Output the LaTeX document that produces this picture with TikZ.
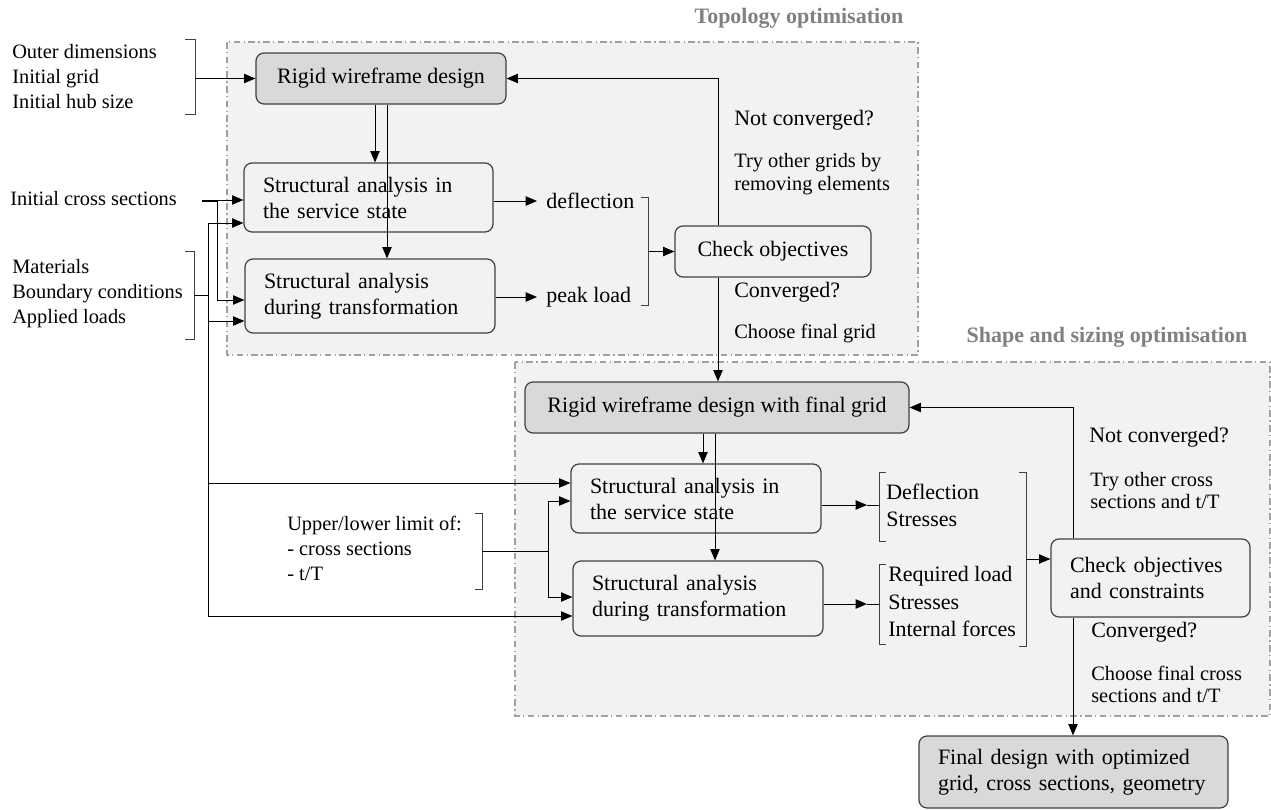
\documentclass[tikz,border=0pt]{standalone}
\usepackage{fontspec}
\setmainfont{Liberation Serif}
\usetikzlibrary{arrows.meta}
\definecolor{grpfill}{HTML}{F2F2F2}
\definecolor{grpline}{HTML}{A0A0A0}
\definecolor{boxfill}{HTML}{D9D9D9}
\definecolor{boxline}{HTML}{404040}
\definecolor{titlegray}{HTML}{808080}
\begin{document}
\begin{tikzpicture}[x=0.75pt,y=-0.75pt,
 font=\fontsize{16.5}{19}\selectfont,
 grp/.style={fill=grpfill,draw=grpline,line width=1pt,dash pattern=on 5pt off 2.5pt on 1pt off 2.5pt},
 box/.style={draw=boxline,line width=0.9pt,rounded corners=6pt,inner sep=0pt},
 gbox/.style={box,fill=boxfill},
 lbox/.style={box,align=left,inner xsep=14.25pt,font=\fontsize{16.5}{19.5}\selectfont},
 lbl/.style={inner sep=0pt,anchor=west,align=left},
 side/.style={lbl,font=\fontsize{15.3}{18.75}\selectfont},
 note/.style={lbl,font=\fontsize{15.3}{17}\selectfont},
 ttl/.style={inner sep=0pt,font=\fontsize{16.5}{19}\selectfont\bfseries,text=titlegray},
 arr/.style={-{Triangle[length=8.5pt,width=7pt]},line width=0.75pt},
 ln/.style={line width=0.75pt},
 brk/.style={draw=boxline,line width=0.75pt}
]
\useasboundingbox (0,0) rectangle (1271,810);
% groups
\draw[grp] (227,42) rectangle (918,355);
\draw[grp] (515,362) rectangle (1270,716);
\node[ttl] (t1) at (799,18) {Topology optimisation};
\node[ttl] (t2) at (1107,337) {Shape and sizing optimisation};
% boxes
\node[gbox,minimum width=187.5pt,minimum height=38.25pt] (rw1) at (381,78.5) {Rigid wireframe design};
\node[lbox,text width=158.25pt,minimum height=51.75pt] (sa1) at (368.5,197.5) {Structural analysis in\\the service state};
\node[lbox,text width=159pt,minimum height=55.5pt] (st1) at (370,296) {Structural analysis\\during transformation};
\node[box,minimum width=147pt,minimum height=38.25pt] (co1) at (773,251.5) {Check objectives};
\node[gbox,minimum width=288pt,minimum height=38.25pt] (rw2) at (717,407.5) {Rigid wireframe design with final grid};
\node[lbox,text width=159pt,minimum height=51.75pt] (sa2) at (696,498.5) {Structural analysis in\\the service state};
\node[lbox,text width=159pt,minimum height=56.25pt] (st2) at (698,598.5) {Structural analysis\\during transformation};
\node[lbox,text width=120.75pt,minimum height=58.5pt] (cc2) at (1150.5,578) {Check objectives\\and constraints};
\node[lbox,fill=boxfill,text width=203.25pt,minimum height=54pt] (fin) at (1073.5,772) {Final design with optimized\\grid, cross sections, geometry};
% labels
\node[side] (od) at (12,77) {Outer dimensions\\Initial grid\\Initial hub size};
\node[side] (ics) at (10,199) {Initial cross sections};
\node[side] (mat) at (12,294) {Materials\\Boundary conditions\\Applied loads};
\node[lbl] (defl) at (546,201) {deflection};
\node[lbl] (pk) at (546,297) {peak load};
\node[lbl] (nc1) at (734,120) {Not converged?};
\node[note] (tg1) at (734,174) {Try other grids by\\removing elements};
\node[lbl] (cv1) at (734,292) {Converged?};
\node[note] (cf1) at (734,334) {Choose final grid};
\node[side] (ul) at (287,548) {Upper/lower limit of:\\- cross sections\\- t/T};
\node[lbl,font=\fontsize{16.5}{20}\selectfont] (ds) at (886,505.5) {Deflection\\Stresses};
\node[lbl,font=\fontsize{16.5}{20.5}\selectfont] (rl) at (888,601.5) {Required load\\Stresses\\Internal forces};
\node[lbl] (nc2) at (1089,437) {Not converged?};
\node[note] (tc2) at (1090,490.5) {Try other cross\\sections and t/T};
\node[lbl] (cv2) at (1091,632) {Converged?};
\node[note] (cf2) at (1091,684.5) {Choose final cross\\sections and t/T};
% brackets
\draw[brk] (185,39) -- (195,39) -- (195,114) -- (185,114);
\draw[brk] (185,251) -- (194,251) -- (194,339) -- (185,339);
\draw[brk] (641,197) -- (648,197) -- (648,305) -- (641,305);
\draw[brk] (475,513) -- (482,513) -- (482,589) -- (475,589);
\draw[brk] (886,472) -- (879,472) -- (879,541) -- (886,541);
\draw[brk] (886,564) -- (879,564) -- (879,644) -- (886,644);
\draw[brk] (1019,472) -- (1026,472) -- (1026,646) -- (1019,646);
% coordinates
\coordinate (b1m) at (195,78.5);
\coordinate (icsE) at (202,200);
\coordinate (icsJ) at (217,201);
\coordinate (icsD) at (217,300);
\coordinate (b2m) at (194,295);
\coordinate (b2j) at (208,295);
\coordinate (v1) at (208,223);
\coordinate (v2) at (208,321);
\coordinate (v3) at (208,483);
\coordinate (v4) at (208,616);
\coordinate (b3m) at (648,251.5);
\coordinate (fb1) at (718,78.5);
\coordinate (dn1) at (718,0);
\coordinate (a1) at (375,0);
\coordinate (a2) at (387,0);
\coordinate (a3) at (703,0);
\coordinate (a4) at (715,0);
\coordinate (bum) at (482,551);
\coordinate (buJ) at (548,551);
\coordinate (bu1) at (548,501);
\coordinate (bu2) at (548,597);
\coordinate (t4) at (867,505);
\coordinate (b4m) at (879,505);
\coordinate (t5) at (867,604);
\coordinate (b5m) at (879,604);
\coordinate (b6m) at (1026,559);
\coordinate (fb2) at (1073,407.5);
\coordinate (dn2) at (1073,0);
% connectors topology
\draw[arr] (b1m) -- (rw1.west);
\draw[arr] (icsE) -- (sa1.west |- icsE);
\draw[arr] (icsE |- icsJ) -- (icsJ) -- (icsD) -- (st1.west |- icsD);
\draw[ln] (b2m) -- (b2j);
\draw[ln] (v1) -- (v4);
\draw[arr] (v1) -- (sa1.west |- v1);
\draw[arr] (v2) -- (st1.west |- v2);
\draw[arr] (v3) -- (sa2.west |- v3);
\draw[arr] (v4) -- (st2.west |- v4);
\draw[arr] (rw1.south -| a1) -- (sa1.north -| a1);
\draw[arr] (rw1.south -| a2) -- (st1.north -| a2);
\draw[arr,shorten >=6.75pt] (sa1.east |- defl.west) -- (defl.west);
\draw[arr,shorten >=6.75pt] (st1.east |- pk.west) -- (pk.west);
\draw[arr] (b3m) -- (co1.west);
\draw[arr] (co1.north -| fb1) -- (fb1) -- (rw1.east);
\draw[arr] (co1.south -| dn1) -- (rw2.north -| dn1);
% connectors shape
\draw[arr] (rw2.south -| a3) -- (sa2.north -| a3);
\draw[arr] (rw2.south -| a4) -- (st2.north -| a4);
\draw[ln] (bum) -- (buJ);
\draw[ln] (bu1) -- (bu2);
\draw[arr] (bu1) -- (sa2.west |- bu1);
\draw[arr] (bu2) -- (st2.west |- bu2);
\draw[arr] (sa2.east |- t4) -- (t4);
\draw[ln] (t4) -- (b4m);
\draw[arr] (st2.east |- t5) -- (t5);
\draw[ln] (t5) -- (b5m);
\draw[arr] (b6m) -- (cc2.west |- b6m);
\draw[arr] (cc2.north -| fb2) -- (fb2) -- (rw2.east);
\draw[arr] (cc2.south -| dn2) -- (fin.north -| dn2);
\end{tikzpicture}
\end{document}
